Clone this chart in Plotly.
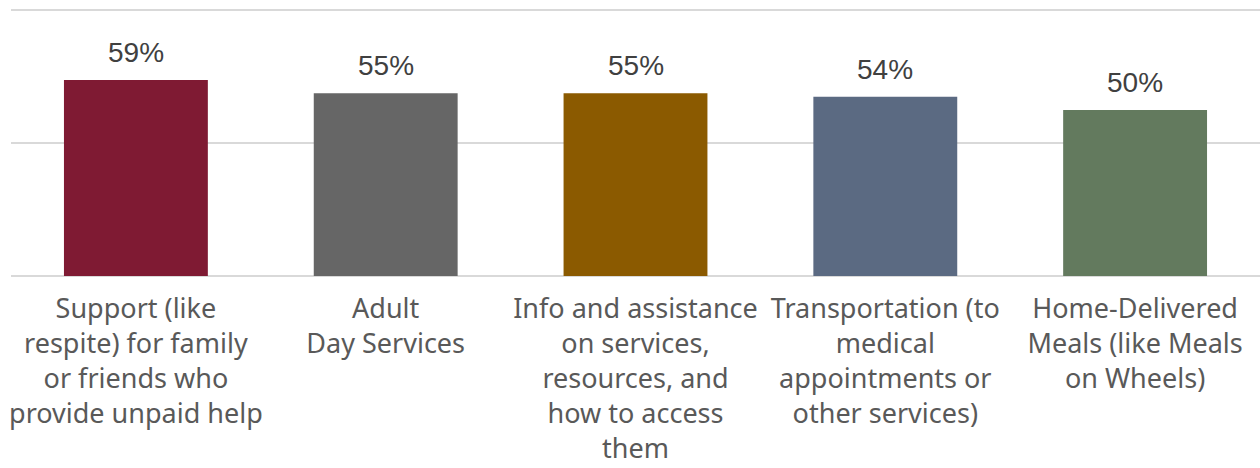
import plotly.graph_objects as go

categories = [
    "Support (like<br>respite) for family<br>or friends who<br>provide unpaid help",
    "Adult<br>Day Services",
    "Info and assistance<br>on services,<br>resources, and<br>how to access<br>them",
    "Transportation (to<br>medical<br>appointments or<br>other services)",
    "Home-Delivered<br>Meals (like Meals<br>on Wheels)",
]
values = [0.59, 0.55, 0.55, 0.54, 0.50]
colors = ["#7F1A33", "#666666", "#8B5A00", "#5B6A82", "#637A5E"]

fig = go.Figure(
    go.Bar(
        x=categories,
        y=values,
        marker=dict(color=colors, line=dict(width=0)),
        hoverinfo="skip",
    )
)

# value labels above each bar
for cat, val in zip(categories, values):
    fig.add_annotation(
        x=cat, y=val, text=f"{val:.0%}",
        showarrow=False, yanchor="bottom", yshift=10,
        font=dict(family="Liberation Sans, Arial, sans-serif", size=28, color="#404040"),
    )

fig.update_layout(
    width=1260, height=468,
    margin=dict(l=11, r=0, t=7, b=192),
    paper_bgcolor="white", plot_bgcolor="white",
    bargap=0.424,
    showlegend=False,
    font=dict(family="Noto Sans, sans-serif", size=27, color="#595959"),
)
fig.update_xaxes(
    showgrid=False, showline=False, ticks="", zeroline=False,
    tickfont=dict(family="Noto Sans, sans-serif", size=27, color="#595959"),
    ticklabelstandoff=14, automargin=False,
)
fig.update_yaxes(
    range=[0, 0.81], tickvals=[0, 0.4, 0.8], showticklabels=False,
    showgrid=True, gridcolor="#D9D9D9", gridwidth=1.5,
    zeroline=True, zerolinecolor="#D9D9D9", zerolinewidth=1.5,
    showline=False, ticks="", automargin=False,
)

fig.write_html("out.html")
